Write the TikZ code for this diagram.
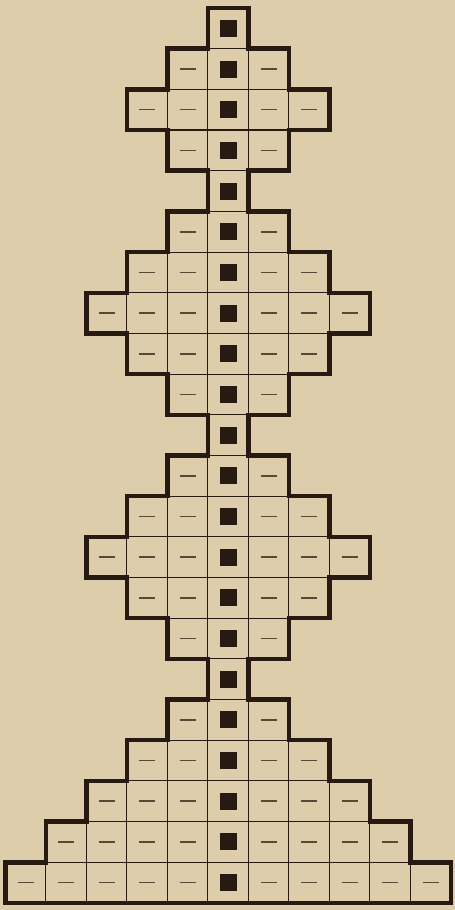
\documentclass[tikz,border=0pt]{standalone}
\definecolor{paper}{RGB}{222,205,170}
\definecolor{ink}{RGB}{38,26,18}
\definecolor{dash}{RGB}{90,72,55}
\tikzset{
  outline/.style={draw=ink, line width=4.5pt, line cap=rect},
  gridline/.style={draw=ink, line width=1.1pt},
  dashmark/.style={draw=dash, line width=1.6pt},
}
\begin{document}
\begin{tikzpicture}[x=1pt,y=1pt]
\fill[paper] (0,0) rectangle (455,910);
\useasboundingbox (0,0) rectangle (455,910);
\def\cw{40.5}
\def\rh{40.68}
\def\cx{228}
\foreach \w/\p [count=\i from 0] in {1/0,3/1,5/3,3/5,1/3,3/1,5/3,7/5,5/7,3/5,1/3,3/1,5/3,7/5,5/7,3/5,1/3,3/1,5/3,7/5,9/7,11/9}{
  \pgfmathsetmacro\yt{902-\i*\rh}
  \pgfmathsetmacro\yb{\yt-\rh}
  \pgfmathsetmacro\ym{\yt-\rh/2}
  \pgfmathsetmacro\xl{\cx-\w*\cw/2}
  \pgfmathsetmacro\xr{\cx+\w*\cw/2}
  \pgfmathsetmacro\pl{\cx-\p*\cw/2}
  \pgfmathsetmacro\pr{\cx+\p*\cw/2}
  % interior vertical lines
  \ifnum\w>1
    \pgfmathtruncatemacro\wm{\w-1}
    \foreach \k in {1,...,\wm}{
      \draw[gridline] ({\xl+\k*\cw},\yt) -- ({\xl+\k*\cw},\yb);
    }
  \fi
  % interior horizontal line with the row above
  \ifnum\p>0
    \pgfmathsetmacro\ml{\cx-min(\w,\p)*\cw/2}
    \pgfmathsetmacro\mr{\cx+min(\w,\p)*\cw/2}
    \draw[gridline] (\ml,\yt) -- (\mr,\yt);
    \draw[outline] (\xl,\yt) -- (\pl,\yt);
    \draw[outline] (\pr,\yt) -- (\xr,\yt);
  \else
    \draw[outline] (\xl,\yt) -- (\xr,\yt);
  \fi
  % side edges
  \draw[outline] (\xl,\yt) -- (\xl,\yb);
  \draw[outline] (\xr,\yt) -- (\xr,\yb);
  % cell marks
  \pgfmathtruncatemacro\c{(\w+1)/2}
  \foreach \k in {1,...,\w}{
    \pgfmathsetmacro\xc{\xl+(\k-0.5)*\cw}
    \ifnum\k=\c
      \fill[ink] ({\xc-8.5},{\ym-8.5}) rectangle ++(17,17);
    \else
      \draw[dashmark] ({\xc-8},\ym) -- ({\xc+8},\ym);
    \fi
  }
  \ifnum\i=21
    \draw[outline] (\xl,\yb) -- (\xr,\yb);
  \fi
}
\end{tikzpicture}
\end{document}
